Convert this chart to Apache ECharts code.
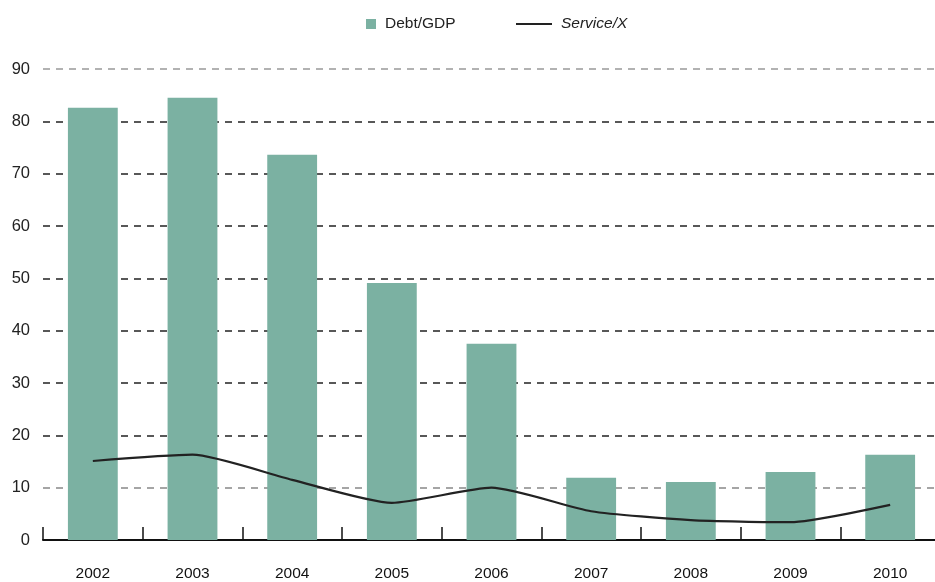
<!DOCTYPE html>
<html><head><meta charset="utf-8">
<script src="https://cdn.jsdelivr.net/npm/echarts@6/dist/echarts.min.js"></script>
<style>html,body{margin:0;padding:0;background:#fff;overflow:hidden}#c{width:945px;height:582px}</style>
</head><body><div id="c"></div>
<script>
const years = ['2002','2003','2004','2005','2006','2007','2008','2009','2010'];
const debtGdp = [82.6, 84.5, 73.6, 49.1, 37.5, 11.9, 11.1, 13.0, 16.3];
const serviceX = [15.1, 16.3, 11.5, 7.1, 10.0, 5.5, 3.8, 3.4, 6.7];

const chart = echarts.init(document.getElementById('c'));
chart.setOption({
  animation: false,
  textStyle: { fontFamily: 'Liberation Sans, Arial, sans-serif' },
  legend: [
    { left: 361, top: 11, itemGap: 0, itemWidth: 10, itemHeight: 10, icon: 'rect',
      textStyle: { fontSize: 15.5, color: '#222', padding: [0, 0, 0, 4] },
      data: ['Debt/GDP'] },
    { left: 511, top: 11, itemGap: 0, itemWidth: 36, itemHeight: 2, icon: 'rect',
      textStyle: { fontSize: 15.5, color: '#222', fontStyle: 'italic', padding: [0, 0, 0, 4] },
      data: ['Service/X'] }
  ],
  grid: { left: 43, right: 5, top: 69, bottom: 42, containLabel: false },
  xAxis: {
    type: 'category', data: years,
    axisLine: { lineStyle: { color: '#111', width: 2 } },
    axisTick: { show: true, inside: true, length: 13, lineStyle: { color: '#111', width: 1.5 } },
    axisLabel: { margin: 26, fontSize: 15.5, color: '#111' }
  },
  yAxis: {
    type: 'value', min: 0, max: 90, interval: 10,
    axisLine: { show: false }, axisTick: { show: false },
    axisLabel: { margin: 13, fontSize: 16.5, color: '#222', align: 'right' },
    splitLine: { lineStyle: { type: [7, 6], width: 1.5,
      color: ['#fff','#888','#222','#222','#222','#222','#222','#222','#222','#999'] } }
  },
  series: [
    { name: 'Debt/GDP', type: 'bar', data: debtGdp, barWidth: '50%',
      itemStyle: { color: '#7BB1A2' } },
    { name: 'Service/X', type: 'line', data: serviceX, smooth: 0.2, symbol: 'none',
      lineStyle: { color: '#222', width: 2.2 }, itemStyle: { color: '#222' } }
  ]
});
</script></body></html>
